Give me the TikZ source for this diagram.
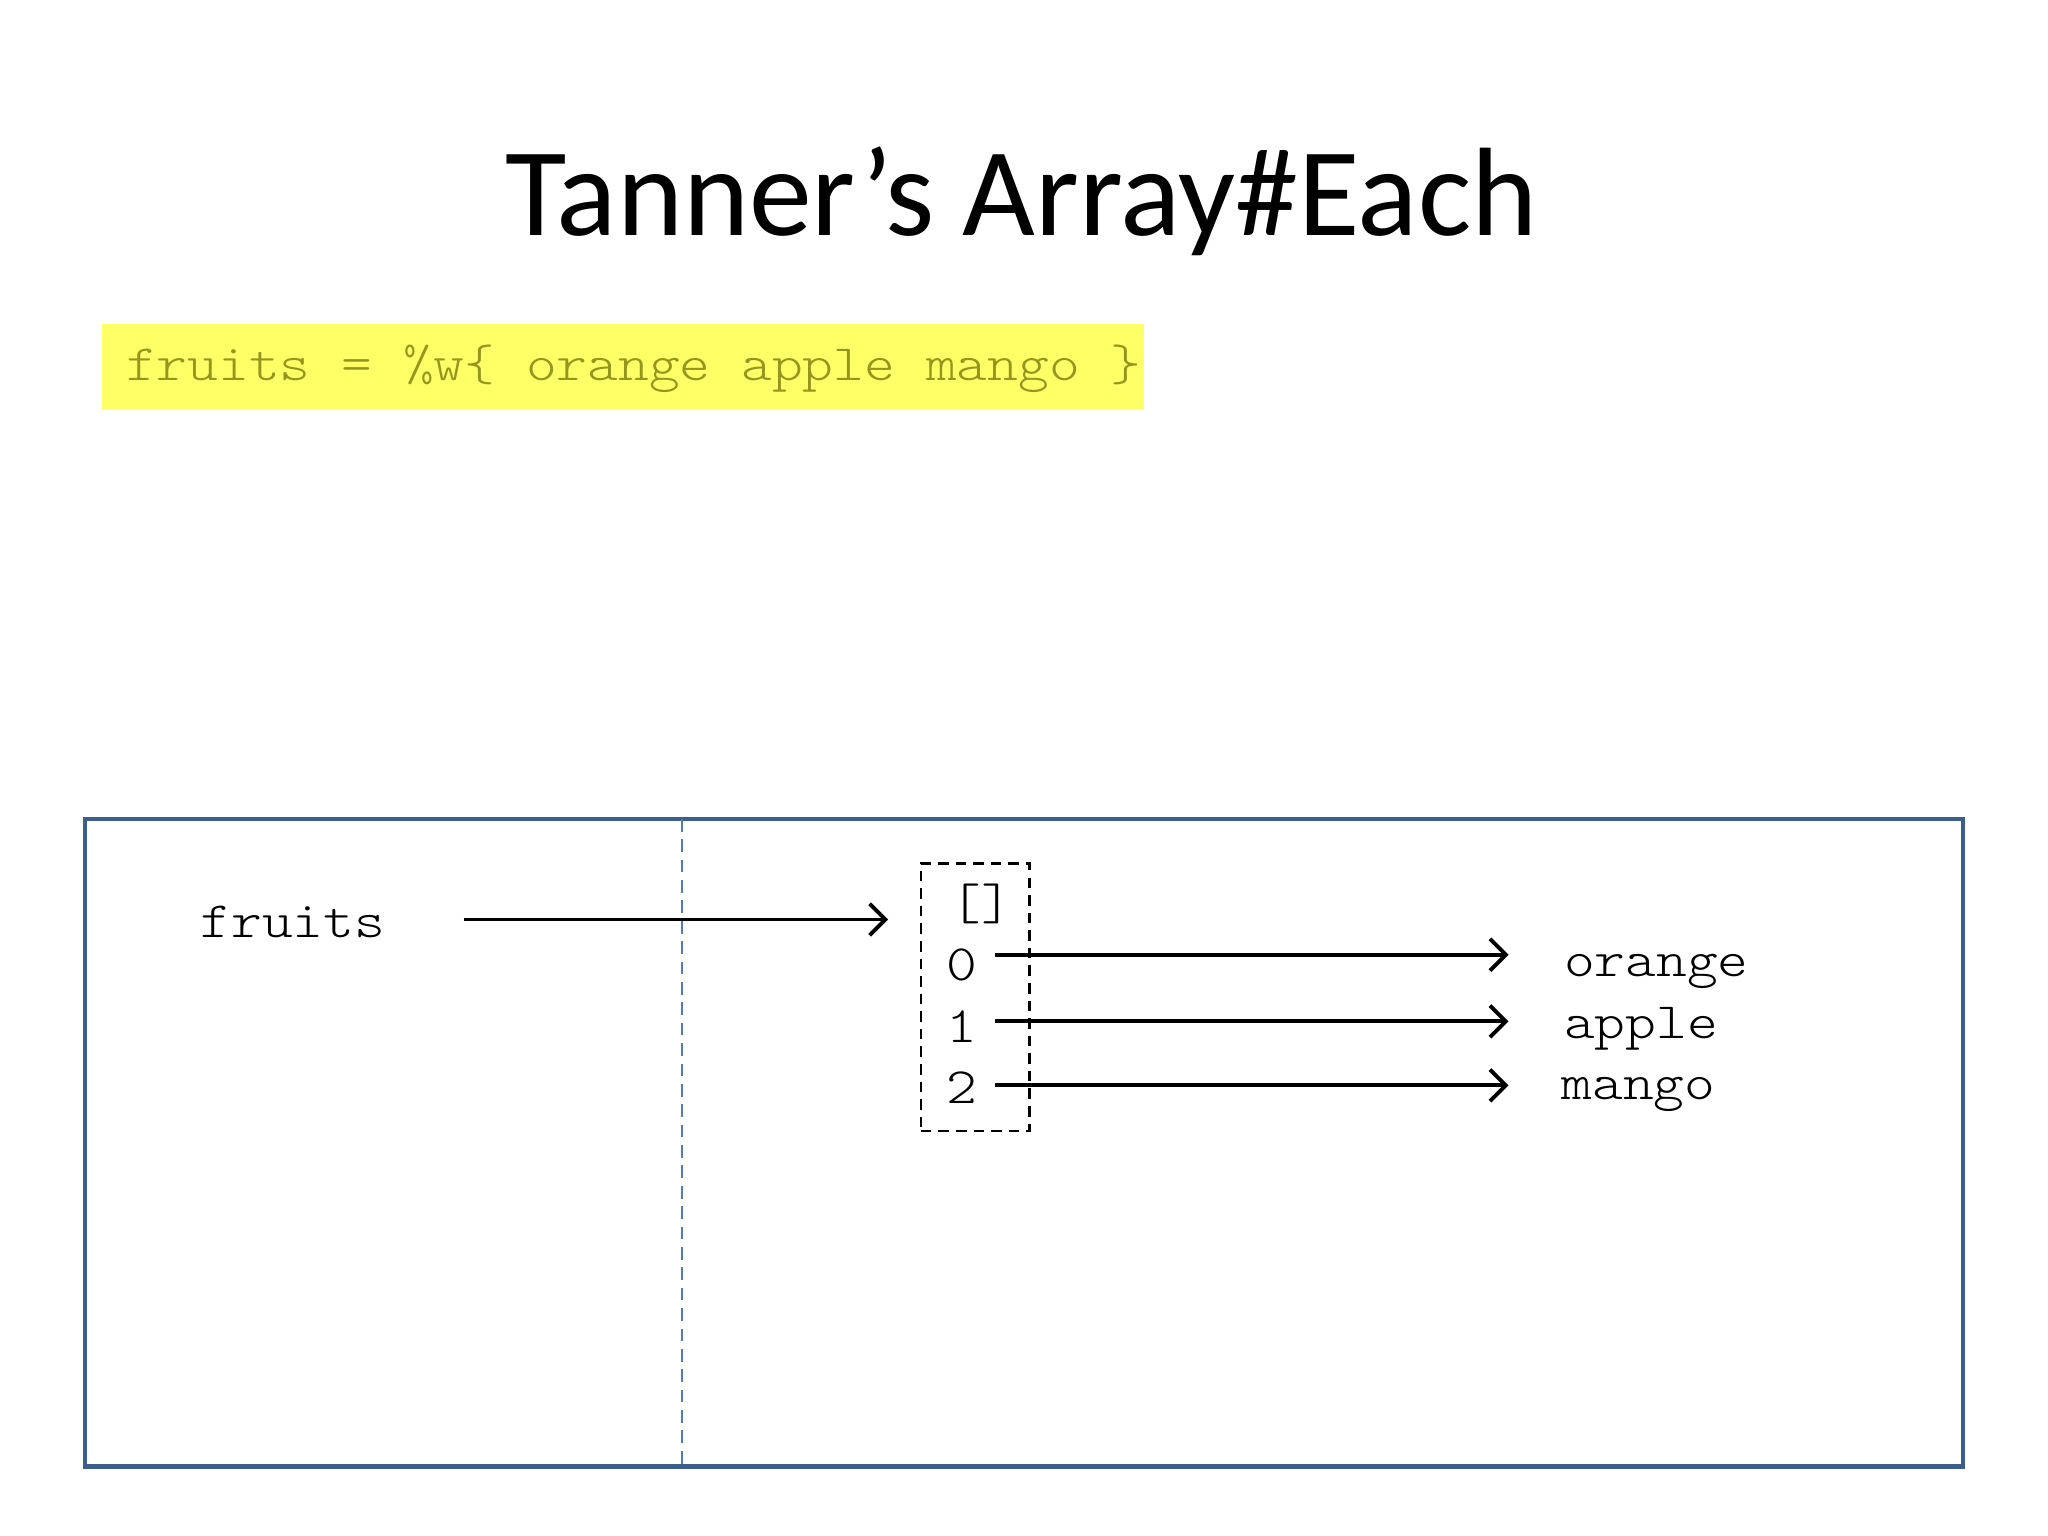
\documentclass[tikz,border=0pt]{standalone}
\usepackage{fontspec}
\setmainfont{Carlito}
\setmonofont[FakeStretch=1.15]{Latin Modern Mono Light}
\usetikzlibrary{arrows.meta,calc}
\definecolor{codeol}{RGB}{150,150,30}
\definecolor{hlyel}{RGB}{255,255,102}
\definecolor{framebl}{RGB}{59,94,140}
\definecolor{dashbl}{RGB}{80,125,185}
\tikzset{
  code/.style={font=\ttfamily\fontsize{14.5pt}{17pt}\selectfont, inner sep=0pt, anchor=base west},
  arr/.style={line width=1.1pt, -{Straight Barb[length=4.5pt,width=9pt]}},
}
\begin{document}
\begin{tikzpicture}[x=0.013061cm,y=-0.013061cm]
\useasboundingbox[fill=white] (0,0) rectangle (1568,1176);
% title
\node[font=\fontsize{35.8pt}{42pt}\selectfont, anchor=base, inner sep=0pt] (title) at (782,180) {Tanner’s Array\#Each};
% highlighted code
\fill[hlyel] (78,248) rectangle (876,313);
\node[code, text=codeol] (codeline) at (96,291) {fruits = \%w\{ orange apple mango \}};
% frame
\draw[framebl, line width=1.3pt] (65,627) rectangle (1503,1123);
\coordinate (divtop) at (522,627);
\coordinate (divbot) at (522,1123);
\draw[dashbl, line width=0.55pt, dash pattern=on 3.6pt off 2.2pt] (divtop) -- (divbot);
% variable
\node[code] (fruits) at (153,718) {fruits};
% array box
\node[draw, line width=0.75pt, dash pattern=on 3pt off 2pt, minimum width=1.084cm, minimum height=2.678cm, inner sep=0pt] (abox) at (746.5,763.5) {};
\node[code] (brk) at (727,704) {[]};
\node[code] (n0) at (724,751) {0};
\node[code] (n1) at (724,798) {1};
\node[code] (n2) at (724,845) {2};
\node[code] (orange) at (1197,748) {orange};
\node[code] (apple) at (1197,795) {apple};
\node[code] (mango) at (1195,842) {mango};
% arrows
\coordinate (fs) at (355,704);
\coordinate (fe) at (680,704);
\draw[arr] (fs) -- (fe);
\coordinate (s0) at (762,731);
\coordinate (s1) at (762,782);
\coordinate (s2) at (762,831);
\draw[arr] (s0) -- ($(orange.west |- s0)+(-42,0)$);
\draw[arr] (s1) -- ($(apple.west |- s1)+(-42,0)$);
\draw[arr] (s2) -- ($(mango.west |- s2)+(-40,0)$);
\end{tikzpicture}
\end{document}
